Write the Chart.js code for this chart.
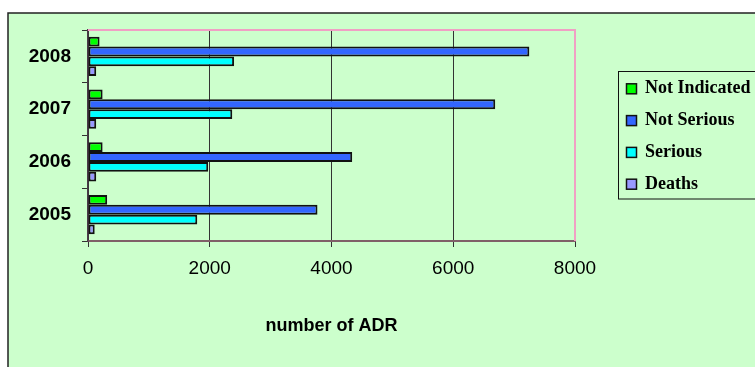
<!DOCTYPE html>
<html>
<head>
<meta charset="utf-8">
<style>
  html, body { margin: 0; padding: 0; background: #ffffff; }
  canvas { display: block; }
</style>
<script src="https://cdn.jsdelivr.net/npm/chart.js@4/dist/chart.umd.min.js"></script>
</head>
<body>
<canvas id="adr" width="755" height="367"></canvas>
<script>
// Reported adverse drug reactions per year, split by outcome
const years = ['2008', '2007', '2006', '2005'];
const notIndicated = [190, 240, 240, 315];
const notSerious = [7250, 6690, 4340, 3770];
const serious = [2400, 2370, 1975, 1795];
const deaths = [135, 135, 135, 110];
const xTicks = [0, 2000, 4000, 6000, 8000];

const seriesNames = ['Not Indicated', 'Not Serious', 'Serious', 'Deaths'];
const seriesValues = [notIndicated, notSerious, serious, deaths];
const seriesColors = ['#00ff00', '#3366ff', '#00ffff', '#9999ff'];

const PANEL = '#ccffcc';
const PINK = '#f0a0c4';

// Framed light-green panel behind everything
const panelPlugin = {
  id: 'panel',
  beforeDraw(chart) {
    const ctx = chart.ctx;
    ctx.save();
    ctx.fillStyle = '#ffffff';
    ctx.fillRect(0, 0, chart.width, chart.height);
    ctx.fillStyle = PANEL;
    ctx.fillRect(8, 13, chart.width - 8, chart.height - 13);
    ctx.strokeStyle = '#222222';
    ctx.lineWidth = 1.5;
    ctx.beginPath();
    ctx.moveTo(8, chart.height);
    ctx.lineTo(8, 13);
    ctx.lineTo(chart.width, 13);
    ctx.stroke();
    ctx.restore();
  },
  afterDatasetsDraw(chart) {
    // pink top and right edges of the plot area
    const a = chart.chartArea;
    const ctx = chart.ctx;
    ctx.save();
    ctx.strokeStyle = PINK;
    ctx.lineWidth = 2;
    ctx.beginPath();
    ctx.moveTo(a.left, a.top);
    ctx.lineTo(a.right, a.top);
    ctx.lineTo(a.right, a.bottom);
    ctx.stroke();
    ctx.restore();
  }
};

// Boxed legend to the right of the plot
const boxLegend = {
  id: 'boxLegend',
  afterDraw(chart) {
    const ctx = chart.ctx;
    ctx.save();
    ctx.strokeStyle = '#111111';
    ctx.lineWidth = 1;
    ctx.strokeRect(618.5, 71.5, 160, 127.5);
    ctx.font = 'bold 18px "Liberation Serif", "Times New Roman", serif';
    ctx.textBaseline = 'middle';
    ctx.textAlign = 'left';
    chart.data.datasets.forEach((ds, i) => {
      const cy = 88.8 + i * 31.8;
      ctx.fillStyle = ds.backgroundColor;
      ctx.fillRect(626.5, cy - 5, 10, 10);
      ctx.lineWidth = 1.5;
      ctx.strokeStyle = '#111111';
      ctx.strokeRect(626.5, cy - 5, 10, 10);
      ctx.fillStyle = '#000000';
      ctx.fillText(ds.label, 645, cy);
    });
    ctx.restore();
  }
};

new Chart(document.getElementById('adr'), {
  type: 'bar',
  data: {
    labels: years,
    datasets: seriesNames.map((name, i) => ({
      label: name,
      data: seriesValues[i],
      backgroundColor: seriesColors[i],
      borderColor: '#111111',
      borderWidth: 2,
      borderSkipped: false,
      categoryPercentage: 0.745,
      barPercentage: 1.0
    }))
  },
  options: {
    indexAxis: 'y',
    responsive: false,
    animation: false,
    devicePixelRatio: 1,
    layout: { padding: { left: 0, right: 180, top: 30, bottom: 0 } },
    plugins: {
      legend: { display: false },
      tooltip: { enabled: false }
    },
    scales: {
      x: {
        min: 0,
        max: 8000,
        afterFit(scale) { scale.height = 126; },
        afterBuildTicks(scale) { scale.ticks = xTicks.map(v => ({ value: v })); },
        ticks: {
          color: '#000000',
          padding: 10,
          callback: (v) => String(v),
          font: { family: '"Liberation Sans", Arial, sans-serif', size: 19 }
        },
        grid: {
          color: (c) => (c.tick && c.tick.value === 8000 ? PINK : '#333333'),
          tickColor: '#333333',
          tickLength: 6,
          lineWidth: 1
        },
        border: { display: true, color: '#806068', width: 2 },
        title: {
          display: true,
          text: 'number of ADR',
          color: '#000000',
          padding: { top: 0, bottom: 30 },
          font: { family: '"Liberation Sans", Arial, sans-serif', size: 18, weight: 'bold' }
        }
      },
      y: {
        afterFit(scale) { scale.width = 88; },
        ticks: {
          color: '#000000',
          padding: 11,
          font: { family: '"Liberation Sans", Arial, sans-serif', size: 19, weight: 'bold' }
        },
        grid: {
          drawOnChartArea: false,
          offset: true,
          tickLength: 6,
          tickColor: '#333333'
        },
        border: { display: true, color: '#4a3a48', width: 1.5 }
      }
    }
  },
  plugins: [panelPlugin, boxLegend]
});
</script>
</body>
</html>
